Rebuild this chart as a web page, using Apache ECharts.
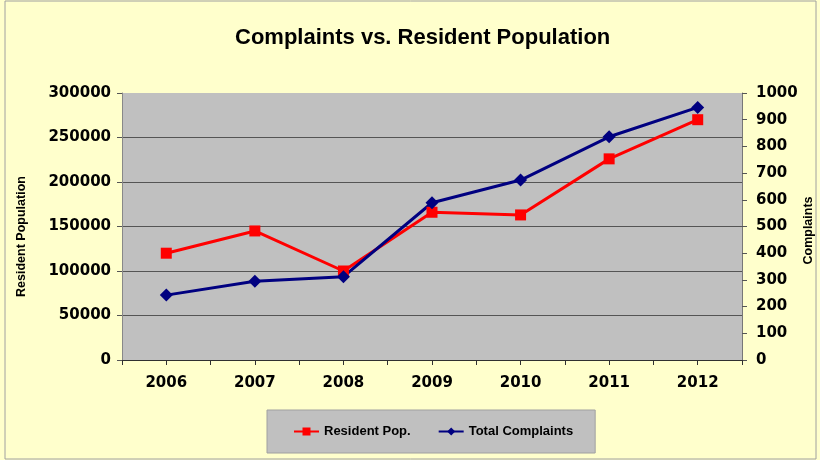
<!DOCTYPE html>
<html lang="en">
<head>
    <meta charset="UTF-8">
    <title>Complaints vs. Resident Population</title>
    <style>
        * { padding: 0; margin: 0; box-sizing: border-box; }
        html, body { width: 820px; height: 460px; background: #ffffcc; }
        #chart-container { width: 820px; height: 460px; }
    </style>
</head>
<body>
    <div id="chart-container"></div>
    <script src="https://cdn.jsdelivr.net/npm/echarts@6/dist/echarts.min.js"></script>
    <script>
        // 年份
        const years = ['2006', '2007', '2008', '2009', '2010', '2011', '2012']
        // 常住人口（左轴）
        const residentPop = [120000, 145000, 100000, 166000, 163000, 226000, 270000]
        // 投诉总数（右轴）
        const totalComplaints = [243, 295, 312, 589, 674, 836, 946]

        const tickFont = { fontFamily: 'DejaVu Sans', fontWeight: 'bold', fontSize: 15, color: '#000' }

        var myChart = echarts.init(document.getElementById('chart-container'))

        var option = {
            backgroundColor: '#ffffcc',
            animation: false,
            title: {
                text: 'Complaints vs. Resident Population',
                left: 230,
                top: 22,
                textStyle: {
                    fontFamily: 'Liberation Sans',
                    fontWeight: 'bold',
                    fontSize: 22,
                    color: '#000'
                }
            },
            legend: {
                left: 267,
                top: 410,
                padding: [15, 22, 15, 26],
                itemGap: 27,
                itemWidth: 25,
                itemHeight: 10,
                backgroundColor: '#c0c0c0',
                borderColor: '#a0a0a0',
                borderWidth: 1,
                textStyle: {
                    fontFamily: 'Liberation Sans',
                    fontWeight: 'bold',
                    fontSize: 13,
                    color: '#000'
                },
                data: ['Resident Pop.', 'Total Complaints']
            },
            graphic: [{
                type: 'rect',
                shape: { x: 5, y: 1, width: 811, height: 458 },
                style: { fill: 'none', stroke: '#a0a0a0', lineWidth: 1 },
                silent: true
            }],
            grid: {
                left: 122,
                right: 78,
                top: 93,
                bottom: 100,
                containLabel: false,
                outerBoundsMode: 'none',
                show: true,
                backgroundColor: '#c0c0c0',
                borderWidth: 0
            },
            xAxis: [{
                type: 'category',
                data: years,
                position: 'bottom',
                boundaryGap: true,
                axisLine: { lineStyle: { color: '#303030', width: 1 } },
                axisTick: { show: true, interval: 0, length: 5, lineStyle: { color: '#303030' } },
                axisLabel: Object.assign({ margin: 16 }, tickFont)
            }, {
                // 类目中心刻度
                type: 'category',
                data: years,
                position: 'bottom',
                boundaryGap: true,
                axisLine: { show: false },
                axisTick: { show: true, alignWithLabel: true, interval: 0, length: 5, lineStyle: { color: '#303030' } },
                axisLabel: { show: false }
            }],
            yAxis: [{
                type: 'value',
                min: 0,
                max: 300000,
                interval: 50000,
                position: 'left',
                name: 'Resident Population',
                nameLocation: 'middle',
                nameGap: 94,
                nameRotate: 90,
                nameTextStyle: {
                    fontFamily: 'Liberation Sans',
                    fontWeight: 'bold',
                    fontSize: 12.5,
                    color: '#000',
                    padding: [0, 0, 0, -20]
                },
                axisLine: { show: true, lineStyle: { color: '#888', width: 1 } },
                axisTick: { show: true, length: 5, lineStyle: { color: '#555' } },
                axisLabel: Object.assign({ margin: 11, formatter: v => String(v) }, tickFont),
                splitLine: {
                    show: true,
                    lineStyle: {
                        color: ['#555', '#555', '#555', '#555', '#555', '#555', '#c0c0c0'],
                        width: 1
                    }
                }
            }, {
                type: 'value',
                min: 0,
                max: 1000,
                interval: 100,
                position: 'right',
                name: 'Complaints',
                nameLocation: 'middle',
                nameGap: 60,
                nameRotate: 90,
                nameMoveOverlap: false,
                nameTextStyle: {
                    fontFamily: 'Liberation Sans',
                    fontWeight: 'bold',
                    fontSize: 12.5,
                    color: '#000',
                    padding: [0, 0, 0, -8]
                },
                axisLine: { show: true, lineStyle: { color: '#777', width: 1 } },
                axisTick: { show: true, length: 5, lineStyle: { color: '#555' } },
                axisLabel: Object.assign({ margin: 14, formatter: v => String(v) }, tickFont),
                splitLine: { show: false }
            }],
            series: [{
                name: 'Resident Pop.',
                type: 'line',
                xAxisIndex: 0,
                yAxisIndex: 0,
                data: residentPop,
                symbol: 'rect',
                symbolSize: 11,
                itemStyle: { color: '#ff0000' },
                lineStyle: { color: '#ff0000', width: 3 }
            }, {
                name: 'Total Complaints',
                type: 'line',
                xAxisIndex: 0,
                yAxisIndex: 1,
                data: totalComplaints,
                symbol: 'diamond',
                symbolSize: 13,
                itemStyle: { color: '#000080' },
                lineStyle: { color: '#000080', width: 3 }
            }]
        }

        myChart.setOption(option)
    </script>
</body>
</html>
